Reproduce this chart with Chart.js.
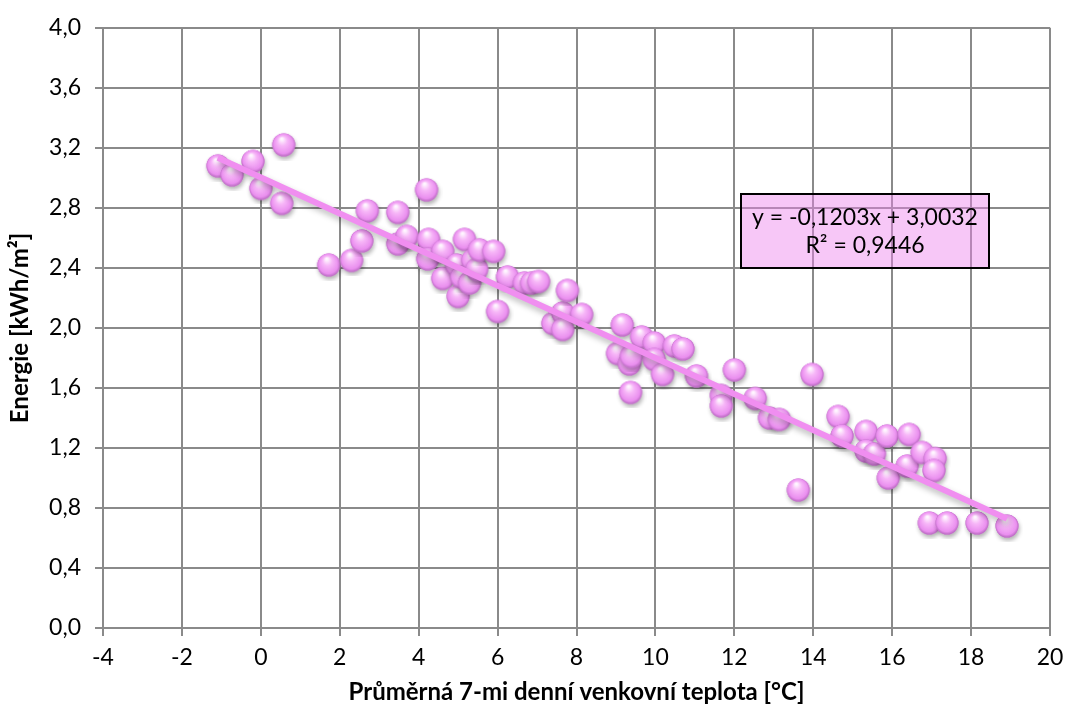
<!DOCTYPE html>
<html>
<head>
<meta charset="utf-8">
<script src="https://cdn.jsdelivr.net/npm/chart.js@4"></script>
<style>
html,body{margin:0;padding:0;background:#fff;}
#wrap{width:1077px;height:715px;}
</style>
</head>
<body>
<div id="wrap"><canvas id="chart" width="1077" height="715"></canvas></div>
<script>
// data
const tempX=[-1.09,-0.73,-0.20,0.58,0.00,0.53,1.72,2.30,2.56,2.70,3.47,3.47,3.70,4.20,4.25,4.23,4.61,4.61,4.96,5.16,
  5.00,5.09,5.29,5.37,5.47,5.54,5.90,6.00,6.25,6.68,6.86,7.04,7.40,7.65,7.65,7.77,8.13,9.04,9.16,9.34,
  9.37,9.39,9.65,9.97,9.97,10.18,10.48,10.70,11.04,11.67,11.67,12.00,12.53,12.89,13.14,13.62,13.97,14.63,14.73,15.34,
  15.34,15.55,15.87,15.90,16.38,16.43,16.76,17.09,17.06,16.94,17.39,18.15,18.91];
const energyY=[3.08,3.02,3.11,3.22,2.93,2.83,2.42,2.45,2.58,2.78,2.77,2.56,2.61,2.92,2.59,2.46,2.51,2.33,2.42,2.59,
  2.21,2.34,2.30,2.45,2.39,2.52,2.51,2.11,2.34,2.30,2.30,2.31,2.03,2.10,1.99,2.25,2.09,1.83,2.02,1.76,
  1.57,1.81,1.94,1.90,1.79,1.69,1.88,1.86,1.68,1.55,1.48,1.72,1.53,1.40,1.39,0.92,1.69,1.41,1.28,1.31,
  1.18,1.16,1.28,1.00,1.08,1.29,1.17,1.13,1.05,0.70,0.70,0.70,0.68];
const slope=-0.1203, intercept=3.0032, r2=0.9446;
const xTicks=[-4,-2,0,2,4,6,8,10,12,14,16,18,20];
const yTicks=[0,0.4,0.8,1.2,1.6,2.0,2.4,2.8,3.2,3.6,4.0];

const FONT="Lato, 'Open Sans', sans-serif";
const comma=(v,d)=>v.toFixed(d).replace('.',',');

// glossy pink sphere used as point style
function makeBall(){
  const c=document.createElement('canvas'); c.width=32; c.height=32;
  const g=c.getContext('2d');
  g.save();
  g.shadowColor='rgba(0,0,0,0.3)'; g.shadowBlur=4; g.shadowOffsetX=1; g.shadowOffsetY=3;
  g.beginPath(); g.arc(16,16,11.5,0,Math.PI*2); g.fillStyle='#e28ae8'; g.fill();
  g.restore();
  const rg=g.createRadialGradient(14,10,1,16,16,12);
  rg.addColorStop(0,'#fff6ff'); rg.addColorStop(0.35,'#f7b6f8'); rg.addColorStop(0.8,'#ea8fef'); rg.addColorStop(1,'#b264ba');
  g.beginPath(); g.arc(16,16,11.5,0,Math.PI*2); g.fillStyle=rg; g.fill();
  return c;
}
const ball=makeBall();

const xMin=Math.min(...tempX), xMax=Math.max(...tempX);
const trend=[{x:xMin,y:slope*xMin+intercept},{x:xMax,y:slope*xMax+intercept}];

const trendShadow={
  id:'trendShadow',
  beforeDatasetDraw(chart,args){
    if(args.index!==1) return;
    const ctx=chart.ctx; ctx.save();
    ctx.shadowColor='rgba(0,0,0,0.28)'; ctx.shadowBlur=6; ctx.shadowOffsetX=2; ctx.shadowOffsetY=4;
  },
  afterDatasetDraw(chart,args){ if(args.index===1) chart.ctx.restore(); }
};

const eqBox={
  id:'eqBox',
  afterDatasetsDraw(chart){
    const ctx=chart.ctx; ctx.save();
    ctx.fillStyle='rgba(238,130,238,0.45)';
    ctx.fillRect(741,194,248,74);
    ctx.strokeStyle='#000'; ctx.lineWidth=2; ctx.strokeRect(741,194,248,74);
    ctx.fillStyle='#000'; ctx.font='23px '+FONT; ctx.textAlign='center'; ctx.textBaseline='middle';
    ctx.fillText('y = '+comma(slope,4)+'x + '+comma(intercept,4),865,218);
    ctx.fillText('R² = '+comma(r2,4),865,246);
    ctx.restore();
  }
};

new Chart(document.getElementById('chart').getContext('2d'),{
  type:'scatter',
  data:{datasets:[
    {label:'Energie',data:tempX.map((x,i)=>({x:x,y:energyY[i]})),pointStyle:ball,pointRadius:12,order:1},
    {type:'line',label:'Trend',data:trend,borderColor:'#f08ef0',borderWidth:6,pointRadius:0,fill:false,order:0}
  ]},
  options:{
    responsive:false,animation:false,
    layout:{padding:{top:21,right:27,left:0,bottom:0}},
    plugins:{legend:{display:false},tooltip:{enabled:false}},
    scales:{
      x:{type:'linear',min:-4,max:20,
        afterBuildTicks:s=>{s.ticks=xTicks.map(v=>({value:v}));},
        afterFit:s=>{s.height=87;},
        grid:{color:'#8a8a8a',lineWidth:2,tickLength:8,drawTicks:true},
        border:{color:'#8a8a8a',width:2},
        ticks:{color:'#000',font:{family:FONT,size:23},padding:8,callback:v=>String(v)},
        title:{display:true,text:'Průměrná 7-mi denní venkovní teplota [°C]',color:'#000',font:{family:FONT,size:24,weight:'bold'},padding:{top:4,bottom:8}}
      },
      y:{min:0,max:4,
        afterBuildTicks:s=>{s.ticks=yTicks.map(v=>({value:v}));},
        afterFit:s=>{s.width=103;},
        grid:{color:'#8a8a8a',lineWidth:2,tickLength:8,drawTicks:true},
        border:{color:'#8a8a8a',width:2},
        ticks:{color:'#000',font:{family:FONT,size:23},padding:14,callback:v=>comma(v,1)},
        title:{display:true,text:'Energie [kWh/m²]',color:'#000',font:{family:FONT,size:24,weight:'bold'},padding:{top:6,bottom:4}}
      }
    }
  },
  plugins:[trendShadow,eqBox]
});
</script>
</body>
</html>
